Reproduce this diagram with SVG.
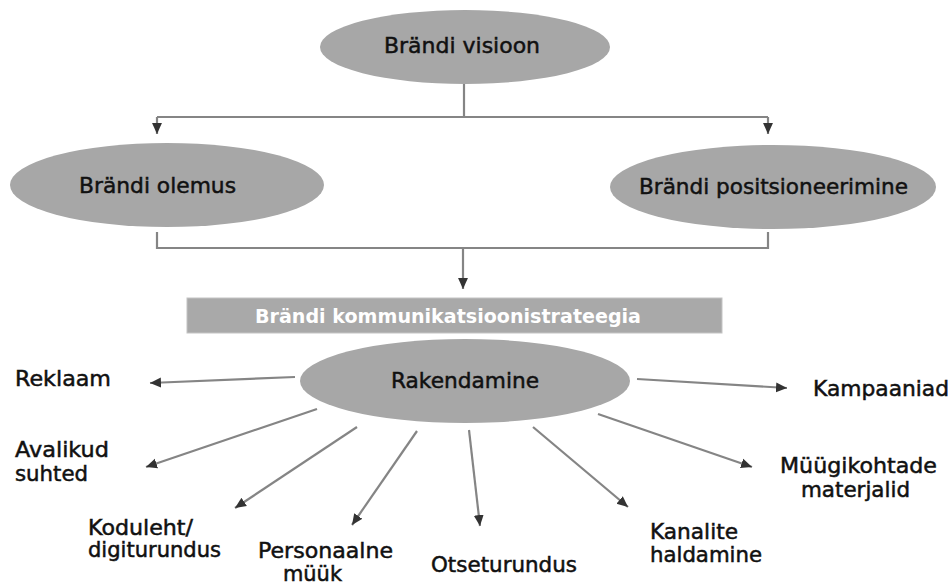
<svg xmlns="http://www.w3.org/2000/svg" width="952" height="588" viewBox="0 0 952 588">
<style>
.node{fill:#a7a7a7;}
.t{font-family:"DejaVu Sans","Liberation Sans",sans-serif;font-size:21px;fill:#111;stroke:#111;stroke-width:0.5px;}
.e{font-size:22px;}
.w{font-family:"DejaVu Sans","Liberation Sans",sans-serif;font-size:20px;font-weight:bold;fill:#fff;}
.c{fill:none;stroke:#858585;stroke-width:2.2;}
</style>
<defs>
<marker id="ah" viewBox="0 0 10 10" refX="10" refY="5" markerWidth="11" markerHeight="11" markerUnits="userSpaceOnUse" orient="auto">
<path d="M0,0.5 L10,5 L0,9.5 z" fill="#333"/>
</marker>
</defs>
<rect width="952" height="588" fill="#fff"/>
<g id="connectors">
<path class="c" d="M464,84 V117"/>
<path class="c" d="M157,117 H768"/>
<path class="c" d="M157,117 V134" marker-end="url(#ah)"/>
<path class="c" d="M768,117 V134" marker-end="url(#ah)"/>
<path class="c" d="M157,232 V248 H768 V232"/>
<path class="c" d="M463,248 V289" marker-end="url(#ah)"/>
<path class="c" d="M295,377 L150,383" marker-end="url(#ah)"/>
<path class="c" d="M637,379 L787,388" marker-end="url(#ah)"/>
<path class="c" d="M317,409 L146,467" marker-end="url(#ah)"/>
<path class="c" d="M357,427 L235,508" marker-end="url(#ah)"/>
<path class="c" d="M417,431 L352,525" marker-end="url(#ah)"/>
<path class="c" d="M469,430 L480,526" marker-end="url(#ah)"/>
<path class="c" d="M533,427 L628,507" marker-end="url(#ah)"/>
<path class="c" d="M598,414 L752,467" marker-end="url(#ah)"/>
</g>
<g id="visioon">
<ellipse class="node" cx="465" cy="47" rx="145" ry="37"/>
<text class="t e" x="384" y="53" textLength="156" lengthAdjust="spacingAndGlyphs">Brändi visioon</text>
</g>
<g id="olemus">
<ellipse class="node" cx="167" cy="185" rx="157" ry="42"/>
<text class="t e" x="79" y="193" textLength="157" lengthAdjust="spacingAndGlyphs">Brändi olemus</text>
</g>
<g id="positsioneerimine">
<ellipse class="node" cx="773" cy="187" rx="163" ry="42"/>
<text class="t e" x="639" y="194" textLength="269" lengthAdjust="spacingAndGlyphs">Brändi positsioneerimine</text>
</g>
<g id="strateegia">
<rect x="187" y="298" width="535" height="35" fill="#a9a9a9" stroke="#c4c4c4" stroke-width="1"/>
<text class="w" x="255" y="323" textLength="386" lengthAdjust="spacingAndGlyphs">Brändi kommunikatsioonistrateegia</text>
</g>
<g id="rakendamine">
<ellipse class="node" cx="465" cy="381" rx="165" ry="42"/>
<text class="t e" x="391" y="388" textLength="148" lengthAdjust="spacingAndGlyphs">Rakendamine</text>
</g>
<g id="reklaam">
<text class="t" x="15" y="386" textLength="96" lengthAdjust="spacingAndGlyphs">Reklaam</text>
</g>
<g id="avalikud">
<text class="t" x="15" y="457" textLength="94" lengthAdjust="spacingAndGlyphs">Avalikud</text>
<text class="t" x="15" y="481" textLength="73" lengthAdjust="spacingAndGlyphs">suhted</text>
</g>
<g id="koduleht">
<text class="t" x="88" y="535" textLength="105" lengthAdjust="spacingAndGlyphs">Koduleht/</text>
<text class="t" x="88" y="557" textLength="133" lengthAdjust="spacingAndGlyphs">digiturundus</text>
</g>
<g id="personaalne">
<text class="t" x="258" y="558" textLength="135" lengthAdjust="spacingAndGlyphs">Personaalne</text>
<text class="t" x="283" y="581" textLength="59" lengthAdjust="spacingAndGlyphs">müük</text>
</g>
<g id="otseturundus">
<text class="t" x="431" y="572" textLength="146" lengthAdjust="spacingAndGlyphs">Otseturundus</text>
</g>
<g id="kanalite">
<text class="t" x="650" y="539" textLength="88" lengthAdjust="spacingAndGlyphs">Kanalite</text>
<text class="t" x="650" y="562" textLength="112" lengthAdjust="spacingAndGlyphs">haldamine</text>
</g>
<g id="myygikohtade">
<text class="t" x="780" y="473" textLength="157" lengthAdjust="spacingAndGlyphs">Müügikohtade</text>
<text class="t" x="801" y="497" textLength="109" lengthAdjust="spacingAndGlyphs">materjalid</text>
</g>
<g id="kampaaniad">
<text class="t" x="813" y="396" textLength="136" lengthAdjust="spacingAndGlyphs">Kampaaniad</text>
</g>
</svg>
